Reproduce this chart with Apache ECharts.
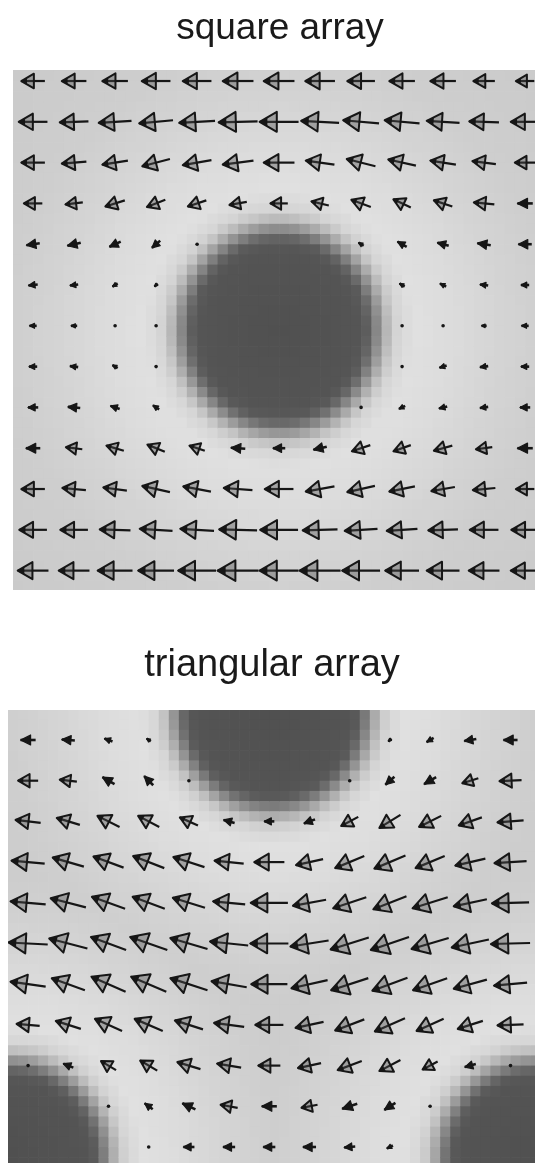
<!DOCTYPE html>
<html><head><meta charset="utf-8">
<script src="https://cdn.jsdelivr.net/npm/echarts@6/dist/echarts.min.js"></script>
<style>html,body{margin:0;padding:0;background:#fff}#c{width:535px;height:1163px}</style>
</head><body><div id="c"></div>
<script>
// ---------- text ----------
const panelTitles = ['square array', 'triangular array'];

// ---------- square array: arrow components (40 = one grid spacing), null = no arrow ----------
// dx < 0 points left, dy > 0 points down
const squareDX = [
  [-23,-24,-25,-28,-28,-30,-30,-29,-27,-25,-25,-21,-18],
  [-28,-28,-32,-33,-35,-38,-38,-37,-35,-34,-32,-29,-28],
  [-23,-24,-25,-27,-28,-30,-30,-28,-28,-27,-25,-23,-20],
  [-18,-17,-19,-18,-18,-17,-17,-17,-19,-17,-18,-20,-15],
  [-13,-13,-11,-8,-3,null,null,null,-5,-9,-11,-13,-13],
  [-9,-8,-5,-3,null,null,null,null,null,-5,-6,-8,-8],
  [-7,-6,-3,-2,null,null,null,null,null,-2,-3,-5,-7],
  [-8,-8,-5,-3,null,null,null,null,null,-3,-7,-8,-8],
  [-10,-12,-9,-6,null,null,null,null,-2,-6,-8,-8,-10],
  [-14,-16,-17,-17,-15,-14,-12,-13,-18,-17,-18,-16,-15],
  [-23,-23,-23,-27,-27,-28,-28,-28,-27,-25,-23,-22,-18],
  [-27,-27,-30,-32,-33,-37,-37,-34,-32,-30,-29,-28,-27],
  [-30,-30,-34,-35,-37,-40,-38,-40,-37,-33,-32,-30,-28]
];
const squareDY = [
  [0,0,0,0,0,0,0,0,0,0,0,0,0],
  [0,1,2,3,2,1,0,-2,-3,-3,-2,-1,0],
  [0,2,4,7,5,4,0,-4,-7,-6,-4,-3,0],
  [0,2,6,7,6,3,0,-4,-7,-8,-6,-2,0],
  [2,3,5,7,2,null,null,null,-3,-5,-3,-2,0],
  [1,1,3,3,null,null,null,null,null,-3,-3,-1,0],
  [0,0,0,0,null,null,null,null,null,0,0,0,0],
  [0,-1,-3,-1,null,null,null,null,null,2,2,1,0],
  [0,-1,-3,-4,null,null,null,null,1,3,2,1,0],
  [0,-2,-5,-7,-5,-1,0,3,6,6,5,2,0],
  [0,-2,-3,-6,-5,-2,0,5,6,5,4,2,0],
  [0,0,-1,-2,-2,-1,0,1,2,2,1,0,0],
  [0,0,0,0,0,0,0,0,0,0,0,0,0]
];

// ---------- triangular array ----------
const triDX = [
  [-15,-13,-8,-4,null,null,null,null,null,-3,-7,-12,-14],
  [-20,-17,-12,-9,-2,null,null,null,-2,-9,-12,-16,-22],
  [-25,-23,-22,-21,-18,-11,-10,-11,-17,-21,-22,-23,-26],
  [-33,-31,-30,-31,-31,-29,-30,-27,-29,-31,-29,-30,-32],
  [-35,-35,-33,-32,-32,-32,-37,-33,-33,-33,-35,-33,-37],
  [-39,-38,-35,-37,-37,-38,-38,-38,-38,-38,-37,-37,-39],
  [-35,-33,-34,-35,-37,-35,-36,-36,-37,-35,-34,-33,-33],
  [-23,-25,-27,-28,-28,-30,-28,-28,-29,-30,-27,-25,-26],
  [-2,-10,-15,-17,-23,-24,-22,-23,-24,-21,-15,-11,-2],
  [null,null,-2,-8,-13,-17,-15,-16,-15,-11,-2,null,null],
  [null,null,null,-2,-11,-12,-12,-13,-11,-6,null,null,null]
];
const triDY = [
  [0,-1,-3,-3,null,null,null,null,null,3,4,2,0],
  [0,-2,-7,-9,-1,null,null,null,1,8,7,5,1],
  [-3,-7,-11,-11,-8,-3,0,4,9,13,11,8,2],
  [-3,-9,-11,-12,-10,-3,0,6,12,13,12,7,2],
  [-3,-9,-12,-12,-10,-3,0,6,11,13,11,7,1],
  [-2,-10,-13,-13,-11,-4,0,6,12,13,11,8,1],
  [-5,-12,-15,-15,-12,-6,0,8,12,13,12,9,3],
  [-2,-8,-12,-12,-9,-4,0,6,11,13,12,8,1],
  [0,-4,-9,-10,-7,-4,0,5,9,11,8,3,0],
  [null,null,0,-6,-6,-3,0,3,5,7,0,null,null],
  [null,null,null,0,0,0,0,0,1,3,null,null,null]
];

// ---------- vortex cores (grid units) and radial grey profile ----------
const squareCores = [[6.0, 6.1]];
const triCores = [[6.07, -0.69], [-0.45, 10.3], [12.65, 10.3]];
const profileR    = [0,    1.85, 2.1,  2.25, 2.4,  2.55, 2.7,  2.9,  3.3,  4.2,  5.4,  6.6,  9];
const profileGrey = [80,   84,   90,   110,  140,  170,  196,  214,  224,  220,  212,  206,  202];
const cellStep = 0.25; // pixel blocks of the density map, 4 per grid spacing

function greyAt(r) {
  if (r >= profileR[profileR.length - 1]) return profileGrey[profileGrey.length - 1];
  for (let k = 1; k < profileR.length; k++) {
    if (r <= profileR[k]) {
      const t = (r - profileR[k - 1]) / (profileR[k] - profileR[k - 1]);
      return Math.round(profileGrey[k - 1] + t * (profileGrey[k] - profileGrey[k - 1]));
    }
  }
}
function buildCells(cores, x0, x1, y0, y1, aspect) {
  const out = [];
  for (let x = x0 + cellStep / 2; x < x1; x += cellStep) {
    for (let y = y0 + cellStep / 2; y < y1; y += cellStep) {
      let r = 1e9;
      cores.forEach(c => { r = Math.min(r, Math.hypot(x - c[0], (y - c[1]) / aspect)); });
      out.push([x, y, greyAt(r)]);
    }
  }
  return out;
}
function buildArrows(DX, DY) {
  const out = [];
  DX.forEach((row, j) => row.forEach((dx, i) => {
    const dy = DY[j][i];
    if (dx !== null && dy !== null) out.push([i, j, dx, dy]);
  }));
  return out;
}

const squareCells = buildCells(squareCores, -0.5, 12.5, -0.5, 12.5, 1.03);
const triCells = buildCells(triCores, -0.5, 12.75, -1.0, 10.5, 1.0);

function cellItem(params, api) {
  const x = api.value(0), y = api.value(1), g = api.value(2);
  const p = api.coord([x - cellStep / 2, y - cellStep / 2]);
  const s = api.size([cellStep, cellStep]);
  return { type: 'rect', shape: { x: p[0], y: p[1], width: s[0] + 0.7, height: s[1] + 0.7 },
           style: { fill: 'rgb(' + g + ',' + g + ',' + g + ')' } };
}
function arrowItem(params, api) {
  const c = api.coord([api.value(0), api.value(1)]);
  const k = api.size([1, 1])[0] / 40;
  const vx = api.value(2) * k, vy = api.value(3) * k;
  const L = Math.hypot(vx, vy);
  const col = '#161616';
  if (L < 4) {
    return { type: 'circle', shape: { cx: c[0], cy: c[1], r: 1.8 }, style: { fill: col } };
  }
  const ux = vx / L, uy = vy / L, nx = -uy, ny = ux;
  const tail = [c[0] - vx / 2, c[1] - vy / 2];
  const tip = [c[0] + vx / 2, c[1] + vy / 2];
  const hl = Math.min(L * 0.7, 0.3 * L + 5.5);
  const small = L < 16;
  const hw = hl * (small ? 0.5 : 0.58);
  const b = [tip[0] - ux * hl, tip[1] - uy * hl];
  const p1 = [b[0] + nx * hw, b[1] + ny * hw], p2 = [b[0] - nx * hw, b[1] - ny * hw];
  const th = hl * 0.45;
  const bt = [tip[0] - ux * th, tip[1] - uy * th];
  const children = [
    { type: 'line', shape: { x1: tail[0], y1: tail[1], x2: tip[0], y2: tip[1] },
      style: { stroke: col, lineWidth: small ? 2.6 : 2.2 } },
    { type: 'polygon', shape: { points: [tip, p1, p2] },
      style: { fill: small ? col : 'rgba(80,80,80,0.4)', stroke: col, lineWidth: small ? 1.2 : 2, lineJoin: 'round' } }
  ];
  if (!small) {
    children.push({ type: 'polygon', shape: { points: [tip, [bt[0] + nx * th * 0.55, bt[1] + ny * th * 0.55], [bt[0] - nx * th * 0.55, bt[1] - ny * th * 0.55]] },
      style: { fill: col } });
  }
  return { type: 'group', children };
}

const chart = echarts.init(document.getElementById('c'), null, { renderer: 'canvas' });
chart.setOption({
  backgroundColor: '#ffffff',
  animation: false,
  title: [
    { text: panelTitles[0], left: 275, top: 5, textAlign: 'center',
      textStyle: { fontFamily: 'Liberation Sans', fontSize: 37, fontWeight: 'normal', color: '#1a1a1a' } },
    { text: panelTitles[1], left: 267, top: 642, textAlign: 'center',
      textStyle: { fontFamily: 'Liberation Sans', fontSize: 38, fontWeight: 'normal', color: '#1a1a1a' } }
  ],
  grid: [
    { left: 13, top: 70, width: 522, height: 520 },
    { left: 8, top: 710, width: 527, height: 453 }
  ],
  xAxis: [
    { gridIndex: 0, type: 'value', min: -0.49, max: -0.49 + 522 / 41, show: false },
    { gridIndex: 1, type: 'value', min: -0.5, max: -0.5 + 527 / 40.2, show: false }
  ],
  yAxis: [
    { gridIndex: 0, type: 'value', inverse: true, min: -0.27, max: -0.27 + 520 / 40.8, show: false },
    { gridIndex: 1, type: 'value', inverse: true, min: -0.737, max: -0.737 + 453 / 40.7, show: false }
  ],
  series: [
    { type: 'custom', xAxisIndex: 0, yAxisIndex: 0, clip: true, silent: true, renderItem: cellItem, data: squareCells, z: 1 },
    { type: 'custom', xAxisIndex: 1, yAxisIndex: 1, clip: true, silent: true, renderItem: cellItem, data: triCells, z: 1 },
    { type: 'custom', xAxisIndex: 0, yAxisIndex: 0, clip: true, silent: true, renderItem: arrowItem, data: buildArrows(squareDX, squareDY), z: 2 },
    { type: 'custom', xAxisIndex: 1, yAxisIndex: 1, clip: true, silent: true, renderItem: arrowItem, data: buildArrows(triDX, triDY), z: 2 }
  ]
});
</script></body></html>
